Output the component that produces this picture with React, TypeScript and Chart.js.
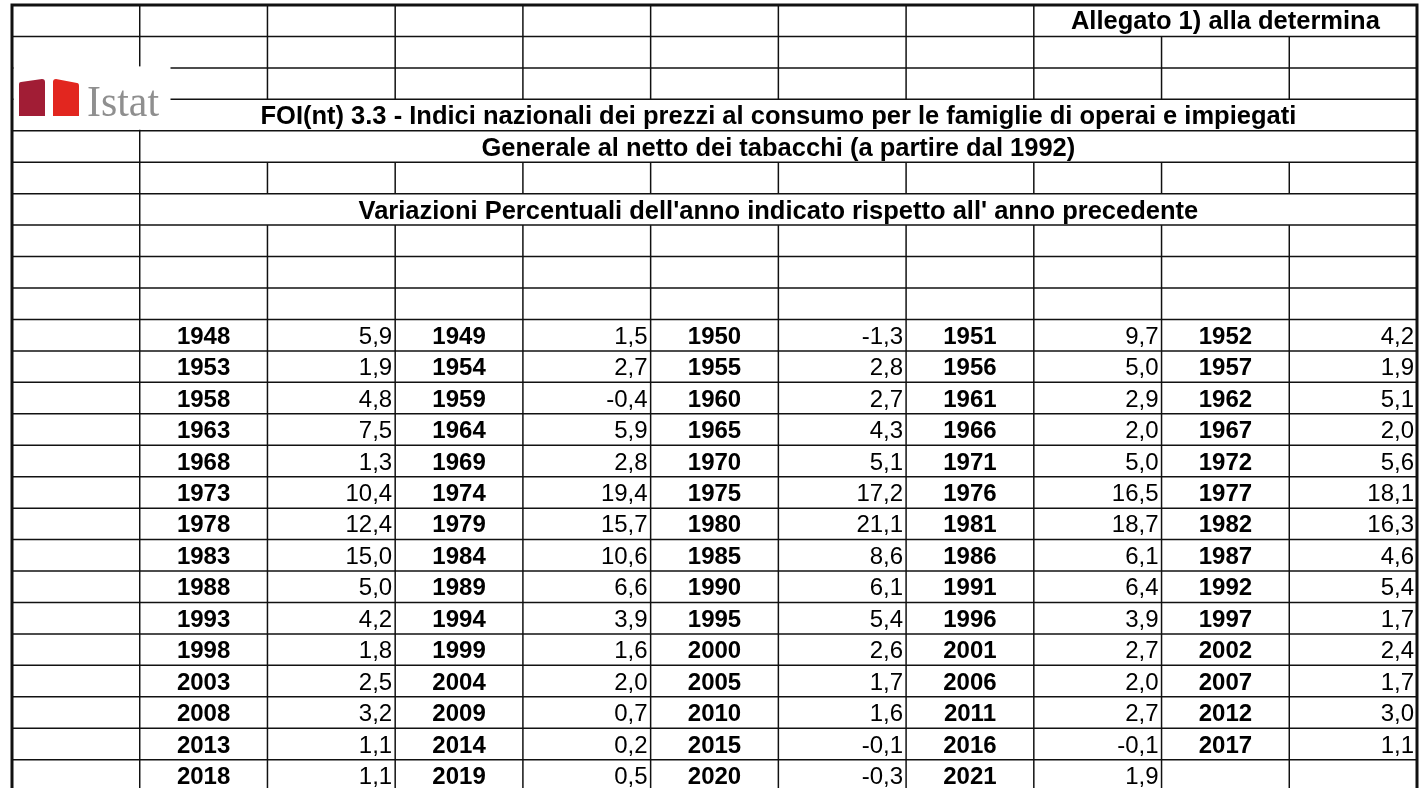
import React, { useEffect, useRef } from "react";
import { Chart, registerables } from "chart.js";

Chart.register(...registerables);

const headerNote = "Allegato 1) alla determina";
const titleLine1 = "FOI(nt) 3.3 - Indici nazionali dei prezzi al consumo per le famiglie di operai e impiegati";
const titleLine2 = "Generale al netto dei tabacchi (a partire dal 1992)";
const titleLine3 = "Variazioni Percentuali dell'anno indicato rispetto all' anno precedente";
const logoText = "Istat";

const yearsCol1 = [1948, 1953, 1958, 1963, 1968, 1973, 1978, 1983, 1988, 1993, 1998, 2003, 2008, 2013, 2018];
const valuesCol1 = [5.9, 1.9, 4.8, 7.5, 1.3, 10.4, 12.4, 15.0, 5.0, 4.2, 1.8, 2.5, 3.2, 1.1, 1.1];
const yearsCol2 = [1949, 1954, 1959, 1964, 1969, 1974, 1979, 1984, 1989, 1994, 1999, 2004, 2009, 2014, 2019];
const valuesCol2 = [1.5, 2.7, -0.4, 5.9, 2.8, 19.4, 15.7, 10.6, 6.6, 3.9, 1.6, 2.0, 0.7, 0.2, 0.5];
const yearsCol3 = [1950, 1955, 1960, 1965, 1970, 1975, 1980, 1985, 1990, 1995, 2000, 2005, 2010, 2015, 2020];
const valuesCol3 = [-1.3, 2.8, 2.7, 4.3, 5.1, 17.2, 21.1, 8.6, 6.1, 5.4, 2.6, 1.7, 1.6, -0.1, -0.3];
const yearsCol4 = [1951, 1956, 1961, 1966, 1971, 1976, 1981, 1986, 1991, 1996, 2001, 2006, 2011, 2016, 2021];
const valuesCol4 = [9.7, 5.0, 2.9, 2.0, 5.0, 16.5, 18.7, 6.1, 6.4, 3.9, 2.7, 2.0, 2.7, -0.1, 1.9];
const yearsCol5 = [1952, 1957, 1962, 1967, 1972, 1977, 1982, 1987, 1992, 1997, 2002, 2007, 2012, 2017];
const valuesCol5 = [4.2, 1.9, 5.1, 2.0, 5.6, 18.1, 16.3, 4.6, 5.4, 1.7, 2.4, 1.7, 3.0, 1.1];

const yearGroups = [yearsCol1, yearsCol2, yearsCol3, yearsCol4, yearsCol5];
const valueGroups = [valuesCol1, valuesCol2, valuesCol3, valuesCol4, valuesCol5];

const N_COLS = 11;
const N_ROWS = 25;
const DATA_ROW_START = 10;

const fmt = (v: number) => v.toFixed(1).replace(".", ",");

const tablePlugin = {
  id: "tablePlugin",
  afterDraw(chart: any) {
    const ctx: CanvasRenderingContext2D = chart.ctx;
    const xs = chart.scales.x;
    const ys = chart.scales.y;
    const X = (v: number) => xs.getPixelForValue(v);
    const Y = (v: number) => ys.getPixelForValue(v);
    const W = chart.width;
    const H = chart.height;

    ctx.save();
    ctx.fillStyle = "#ffffff";
    ctx.fillRect(0, 0, W, H);

    // grid lines
    ctx.strokeStyle = "#111111";
    ctx.lineWidth = 1.5;
    ctx.lineCap = "butt";
    for (let j = 1; j <= N_ROWS; j++) {
      ctx.beginPath();
      ctx.moveTo(X(0), Y(j));
      ctx.lineTo(X(N_COLS), Y(j));
      ctx.stroke();
    }
    const mergedTitleRows = [3, 4, 6];
    for (let r = 0; r < N_ROWS; r++) {
      for (let i = 1; i < N_COLS; i++) {
        if (r === 0 && i >= 9) continue;
        if (mergedTitleRows.includes(r) && i >= 2) continue;
        ctx.beginPath();
        ctx.moveTo(X(i), Y(r));
        ctx.lineTo(X(i), Y(r + 1));
        ctx.stroke();
      }
    }

    // logo area (white box)
    const lx0 = X(0) + 1.5;
    const ly0 = Y(2) - 1.5;
    ctx.fillStyle = "#ffffff";
    ctx.fillRect(lx0, ly0, 157, (Y(4) - 1) - ly0);

    // outer border
    ctx.strokeStyle = "#111111";
    ctx.lineWidth = 3;
    ctx.beginPath();
    ctx.moveTo(X(0), Y(N_ROWS) + 5);
    ctx.lineTo(X(0), Y(0));
    ctx.lineTo(X(N_COLS), Y(0));
    ctx.lineTo(X(N_COLS), Y(N_ROWS) + 5);
    ctx.stroke();

    // logo shapes
    const bx = X(0);
    const by = Y(2);
    ctx.fillStyle = "#a11d35";
    ctx.beginPath();
    ctx.moveTo(bx + 7, by + 16);
    ctx.quadraticCurveTo(bx + 7, by + 14, bx + 9, by + 14);
    ctx.lineTo(bx + 30, by + 11);
    ctx.quadraticCurveTo(bx + 33, by + 11, bx + 33, by + 14);
    ctx.lineTo(bx + 33, by + 48);
    ctx.lineTo(bx + 7, by + 48);
    ctx.closePath();
    ctx.fill();
    ctx.fillStyle = "#e2261f";
    ctx.beginPath();
    ctx.moveTo(bx + 41, by + 14);
    ctx.quadraticCurveTo(bx + 41, by + 11, bx + 44, by + 11);
    ctx.lineTo(bx + 65, by + 15);
    ctx.quadraticCurveTo(bx + 67, by + 15, bx + 67, by + 18);
    ctx.lineTo(bx + 67, by + 48);
    ctx.lineTo(bx + 41, by + 48);
    ctx.closePath();
    ctx.fill();
    ctx.fillStyle = "#8f8f8f";
    ctx.font = "44px 'Liberation Serif', 'DejaVu Serif', serif";
    ctx.textBaseline = "alphabetic";
    ctx.textAlign = "left";
    const lw = ctx.measureText(logoText).width;
    ctx.save();
    ctx.translate(bx + 75, by + 48);
    ctx.scale(72 / lw, 1);
    ctx.fillText(logoText, 0, 0);
    ctx.restore();

    // texts
    const FONT = "'Liberation Sans', Arial, sans-serif";
    const fs = 24;
    const tfs = 25.5;
    const rowMid = (r: number, size: number) => (Y(r) + Y(r + 1)) / 2 + (size * 0.716) / 2;
    ctx.fillStyle = "#000000";
    ctx.textAlign = "center";
    ctx.font = `bold ${tfs}px ${FONT}`;
    ctx.fillText(headerNote, X(9.5), rowMid(0, tfs) - 1);
    ctx.fillText(titleLine1, X(6), rowMid(3, tfs));
    ctx.fillText(titleLine2, X(6), rowMid(4, tfs));
    ctx.fillText(titleLine3, X(6), rowMid(6, tfs));

    for (let g = 0; g < yearGroups.length; g++) {
      const yrs = yearGroups[g];
      const vals = valueGroups[g];
      const yc = 1 + 2 * g;
      for (let k = 0; k < yrs.length; k++) {
        const r = DATA_ROW_START + k;
        ctx.font = `bold ${fs}px ${FONT}`;
        ctx.textAlign = "center";
        ctx.fillText(String(yrs[k]), X(yc + 0.5), rowMid(r, fs));
        ctx.font = `${fs}px ${FONT}`;
        ctx.textAlign = "right";
        ctx.fillText(fmt(vals[k]), X(yc + 2) - 3, rowMid(r, fs));
      }
    }
    ctx.restore();
  },
};

export default function App() {
  const ref = useRef<HTMLCanvasElement | null>(null);
  useEffect(() => {
    if (!ref.current) return;
    const chart = new Chart(ref.current, {
      type: "scatter",
      data: { datasets: [{ data: [], pointRadius: 0 }] },
      options: {
        animation: false,
        responsive: false,
        maintainAspectRatio: false,
        devicePixelRatio: 1,
        layout: { padding: { left: 12, right: 6, top: 5, bottom: 0 } },
        plugins: { legend: { display: false }, tooltip: { enabled: false } },
        scales: {
          x: { type: "linear", min: 0, max: N_COLS, display: false },
          y: { type: "linear", min: 0, max: 24.9, reverse: true, display: false },
        },
      },
      plugins: [tablePlugin],
    });
    return () => chart.destroy();
  }, []);
  return (
    <div style={{ position: "fixed", left: 0, top: 0, width: 1423, height: 788, background: "#fff" }}>
      <canvas ref={ref} width={1423} height={788} style={{ display: "block" }} />
    </div>
  );
}
